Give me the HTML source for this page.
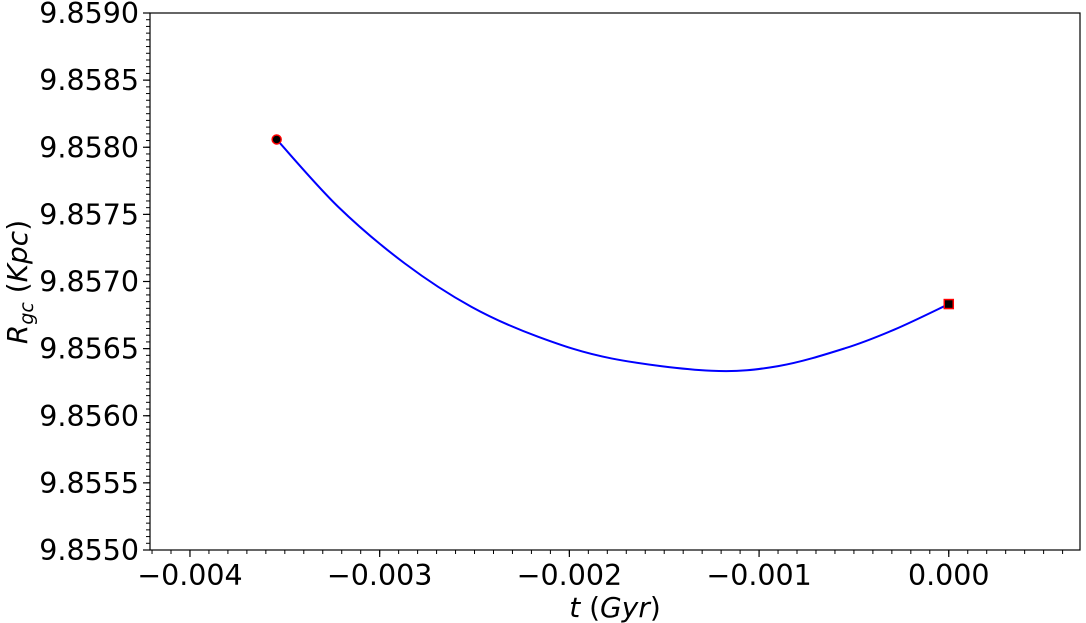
<!DOCTYPE html>
<html><head><meta charset="utf-8"><style>
body{margin:0;background:#fff;}
svg{display:block;font-family:"DejaVu Sans","Liberation Sans",sans-serif;}
</style></head><body>
<svg id="chart" width="1086" height="623" viewBox="0 0 1086 623" xmlns="http://www.w3.org/2000/svg">
<rect x="150" y="13" width="930" height="537" fill="none" stroke="#000" stroke-width="1.2"/>
<text x="615" y="617" font-size="28" text-anchor="middle"><tspan font-style="italic">t</tspan> (<tspan font-style="italic">Gyr</tspan>)</text>
<text transform="translate(27,282) rotate(-90)" font-size="28" text-anchor="middle"><tspan font-style="italic">R</tspan><tspan font-style="italic" font-size="19" dy="6">gc</tspan><tspan dy="-6"> (</tspan><tspan font-style="italic">Kpc</tspan>)</text>
</svg>
<script>
const tValues=[-0.003543,-0.003219,-0.002868,-0.002516,-0.002164,-0.001778,-0.001251,-0.000899,-0.000548,-0.000285,0.0];
const rValues=[9.858058,9.857557,9.857135,9.856811,9.856588,9.856427,9.856335,9.856370,9.856502,9.856643,9.856832];
const xTicks=[-0.004,-0.003,-0.002,-0.001,0.0];
const xTickLabels=["\u22120.004","\u22120.003","\u22120.002","\u22120.001","0.000"];
const yTicks=[9.8550,9.8555,9.8560,9.8565,9.8570,9.8575,9.8580,9.8585,9.8590];
const yTickLabels=["9.8550","9.8555","9.8560","9.8565","9.8570","9.8575","9.8580","9.8585","9.8590"];
const X0=150,X1=1080,Y0=550,Y1=13;
const xMin=-0.0042107,xMax=0.0006918,yMin=9.8550,yMax=9.8590;
function xs(v){return X0+(v-xMin)/(xMax-xMin)*(X1-X0);}
function ys(v){return Y0-(v-yMin)/(yMax-yMin)*(Y0-Y1);}
const NS="http://www.w3.org/2000/svg";
const svg=document.getElementById('chart');
function mk(tag,attrs,parent){const e=document.createElementNS(NS,tag);for(const k in attrs)e.setAttribute(k,attrs[k]);(parent||svg).appendChild(e);return e;}
for(let i=-42;i<=6;i++){const v=i*0.0001;const x=xs(v);if(x<X0-0.5||x>X1+0.5)continue;
 const l=mk('line',{x1:x,x2:x,y1:Y0,y2:Y0+4,stroke:'#000','stroke-width':1});
 
 }
for(let i=0;i<=80;i++){const y=ys(yMin+i*0.00005);
 const l=mk('line',{x1:X0-4,x2:X0,y1:y,y2:y,stroke:'#000','stroke-width':1});
 
 }
xTicks.forEach((v,i)=>{const x=xs(v);
 const l=mk('line',{x1:x,x2:x,y1:Y0,y2:Y0+7,stroke:'#000','stroke-width':1.2});
 
 
 const t=mk('text',{x:x,y:585,'font-size':28.5,'text-anchor':'middle'});t.textContent=xTickLabels[i];
 
 });
yTicks.forEach((v,i)=>{const y=ys(v);
 const l=mk('line',{x1:X0-7,x2:X0,y1:y,y2:y,stroke:'#000','stroke-width':1.2});
 
 
 const t=mk('text',{x:139,y:y+10,'font-size':28.5,'text-anchor':'end'});t.textContent=yTickLabels[i];
 
 });
const P=tValues.map((t,i)=>[xs(t),ys(rValues[i])]);
let d='M'+P[0][0]+','+P[0][1];
for(let i=0;i<P.length-1;i++){const p0=P[Math.max(0,i-1)],p1=P[i],p2=P[i+1],p3=P[Math.min(P.length-1,i+2)];
 const c1=[p1[0]+(p2[0]-p0[0])/6,p1[1]+(p2[1]-p0[1])/6],c2=[p2[0]-(p3[0]-p1[0])/6,p2[1]-(p3[1]-p1[1])/6];
 d+=' C'+c1[0]+','+c1[1]+' '+c2[0]+','+c2[1]+' '+p2[0]+','+p2[1];}
const path=mk('path',{d:d,fill:'none',stroke:'#0000ff','stroke-width':2});


const s=P[0],e=P[P.length-1];
const c=mk('circle',{cx:s[0],cy:s[1],r:4.5,fill:'#000',stroke:'#ff0000','stroke-width':1.5});


const r=mk('rect',{x:e[0]-4.5,y:e[1]-4.5,width:9,height:9,fill:'#000',stroke:'#ff0000','stroke-width':1.5});


</script>
</body></html>
